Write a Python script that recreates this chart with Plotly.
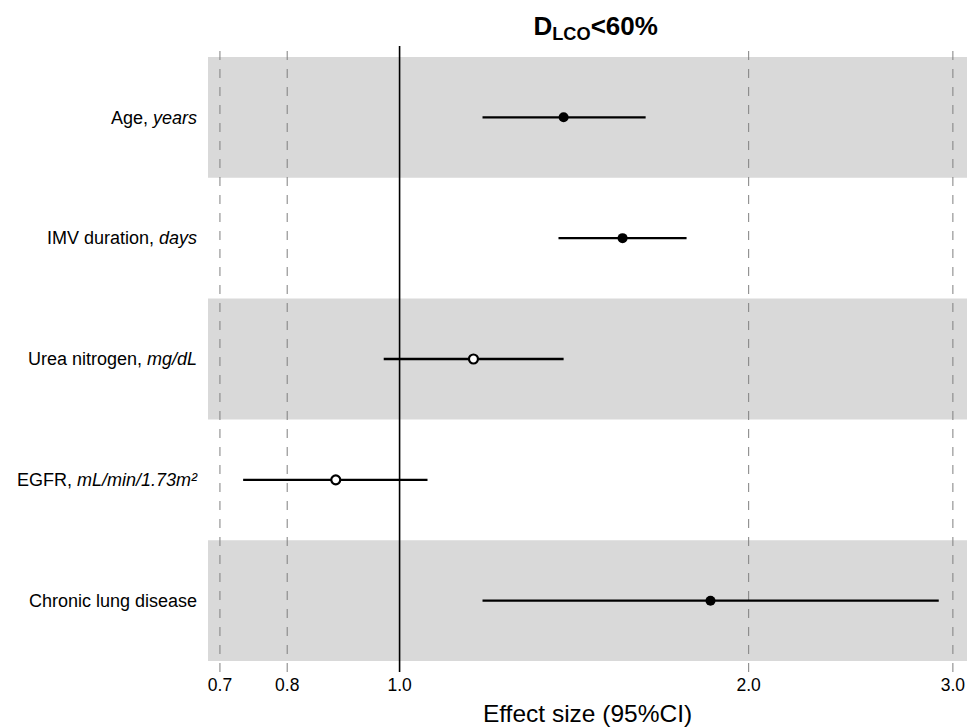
import plotly.graph_objects as go

labels = ["Age, <i>years</i>", "IMV duration, <i>days</i>", "Urea nitrogen, <i>mg/dL</i>",
          "EGFR, <i>mL/min/1.73m²</i>", "Chronic lung disease"]
est = [1.385, 1.557, 1.158, 0.881, 1.854]
lo = [1.179, 1.371, 0.969, 0.733, 1.179]
hi = [1.630, 1.768, 1.385, 1.057, 2.917]
filled = [True, True, False, False, True]
ref_lines = [0.7, 0.8, 2.0, 3.0]
tick_vals = [0.7, 0.8, 1.0, 2.0, 3.0]
tick_text = ["0.7", "0.8", "1.0", "2.0", "3.0"]

n = len(labels)
ypos = [n - i for i in range(n)]

fig = go.Figure()

shapes = []
for i in range(n):
    if i % 2 == 0:
        shapes.append(dict(type="rect", xref="paper", yref="y", x0=0, x1=1,
                           y0=ypos[i] - 0.5, y1=ypos[i] + 0.5,
                           fillcolor="#d9d9d9", line=dict(width=0), layer="below"))
for v in ref_lines:
    shapes.append(dict(type="line", xref="x", yref="paper", x0=v, x1=v, y0=0, y1=1,
                       line=dict(color="#7f7f7f", width=1, dash="dash"), layer="below"))
shapes.append(dict(type="line", xref="x", yref="paper", x0=1.0, x1=1.0, y0=0, y1=1,
                   line=dict(color="black", width=1.6), layer="below"))

for i in range(n):
    fig.add_trace(go.Scatter(
        x=[lo[i], hi[i]], y=[ypos[i], ypos[i]], mode="lines",
        line=dict(color="black", width=2.3), showlegend=False, hoverinfo="skip"))
    fig.add_trace(go.Scatter(
        x=[est[i]], y=[ypos[i]], mode="markers", showlegend=False,
        marker=dict(size=10 if filled[i] else 9,
                    color="black" if filled[i] else "white",
                    line=dict(color="black", width=2.2 if not filled[i] else 0))))

fig.update_layout(
    width=967, height=727,
    margin=dict(l=208, r=0, t=46, b=55),
    paper_bgcolor="white", plot_bgcolor="white",
    font=dict(family="Liberation Sans, Arial, sans-serif", color="black", size=18),
    title=dict(text="<b>D<sub>LCO</sub>&lt;60%</b>", x=0.616, xanchor="center",
               y=0.965, yanchor="middle", font=dict(size=26, color="black")),
    shapes=shapes,
    xaxis=dict(type="log", range=[-0.1652, 0.4893], tickvals=tick_vals, ticktext=tick_text,
               showgrid=False, zeroline=False, showline=False, ticks="",
               tickfont=dict(size=17.5),
               title=dict(text="Effect size (95%CI)", font=dict(size=24.5), standoff=11)),
    yaxis=dict(range=[0.41, 5.59], tickvals=ypos, ticktext=labels, showgrid=False,
               zeroline=False, showline=False, ticks="", ticklabelstandoff=10,
               tickfont=dict(size=18)),
)

fig.write_html("out.html", config={"displayModeBar": False},
               post_script="document.body.style.margin='0';document.body.style.overflow='hidden';")
